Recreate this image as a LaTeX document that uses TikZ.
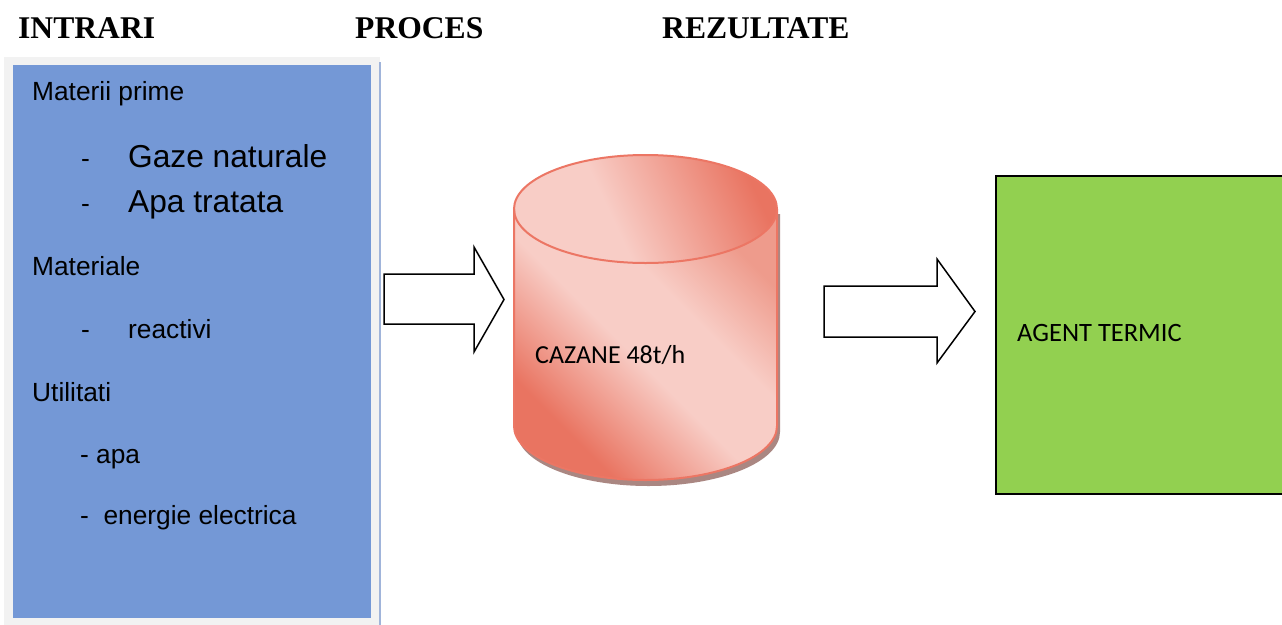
\documentclass[tikz,border=0pt]{standalone}
\usepackage{fontspec}
\setmainfont{Liberation Sans}
\newfontfamily\timesf{Liberation Serif}
\newfontfamily\calib{Carlito}
\definecolor{boxblue}{RGB}{116,152,214}
\definecolor{framegray}{RGB}{242,242,242}
\definecolor{edgeblue}{RGB}{160,180,218}
\definecolor{cdark}{RGB}{233,116,97}
\definecolor{clight}{RGB}{248,205,198}
\definecolor{cmid}{RGB}{238,155,140}
\definecolor{cstroke}{RGB}{236,118,100}
\definecolor{cshadow}{RGB}{170,135,130}
\definecolor{agentgreen}{RGB}{146,208,80}
\pgfdeclareverticalshading{bodyshade}{100bp}{color(0bp)=(cdark); color(28bp)=(cdark); color(47bp)=(clight); color(60bp)=(clight); color(75bp)=(cmid); color(100bp)=(cmid)}
\pgfdeclareverticalshading{topshade}{100bp}{color(0bp)=(clight); color(25bp)=(clight); color(42bp)=(clight); color(75bp)=(cdark); color(100bp)=(cdark)}
\tikzset{
  head/.style={font=\timesf\bfseries\fontsize{31.6}{36}\selectfont, anchor=base west, inner sep=0pt},
  item/.style={font=\fontsize{26.3}{30}\selectfont, anchor=base west, inner sep=0pt},
  bigitem/.style={font=\fontsize{31.7}{36}\selectfont, anchor=base west, inner sep=0pt},
  cal/.style={font=\calib\fontsize{26}{30}\selectfont, anchor=base west, inner sep=0pt},
  blockarrow/.style={draw=black, fill=white, line width=1.5pt, line join=miter},
}
\begin{document}
\begin{tikzpicture}[x=1pt,y=-1pt]
\useasboundingbox[fill=white] (0,0) rectangle (1282,624);
% headings
\node[head] (intrari) at (18,38) {INTRARI};
\node[head] (proces) at (355,38) {PROCES};
\node[head] (rezultate) at (662,38) {REZULTATE};
% left box
\fill[framegray] (4,57) rectangle (380,630);
\fill[boxblue] (12.5,65) rectangle (370.5,618);
\draw[edgeblue, line width=2pt] (380,62) -- (380,630);
\node[item] (mp) at (32,100) {Materii prime};
\node[item] (d1) at (81,167) {-};
\node[bigitem] (gaze) at (128,167) {Gaze naturale};
\node[item] (d2) at (81,212) {-};
\node[bigitem] (apat) at (128,212) {Apa tratata};
\node[item] (mat) at (32,275) {Materiale};
\node[item] (d3) at (81,338) {-};
\node[item] (react) at (128,338) {reactivi};
\node[item] (util) at (32,401) {Utilitati};
\node[item] (apa) at (80,463) {- apa};
\node[item] (energ) at (80,524) {-\ \ energie electrica};
% arrow 1
\draw[blockarrow] (384,274) -- (474,274) -- (474,247) -- (504,299.5) -- (474,352) -- (474,324) -- (384,324) -- cycle;
% cylinder shadow
\fill[cshadow] (517,214) -- (517,432) arc[start angle=180, end angle=0, x radius=131.5, y radius=54] -- (780,214) -- cycle;
% cylinder body
\shade[shading=bodyshade, shading angle=-45] (514,209) -- (514,426) arc[start angle=180, end angle=0, x radius=131.5, y radius=54] -- (777,209) arc[start angle=0, end angle=180, x radius=131.5, y radius=54] -- cycle;
\shade[shading=topshade, shading angle=-65] (645.5,209) ellipse[x radius=131.5, y radius=54];
\draw[cstroke, line width=2pt] (514,209) -- (514,426) arc[start angle=180, end angle=0, x radius=131.5, y radius=54] -- (777,209);
\draw[cstroke, line width=2pt] (645.5,209) ellipse[x radius=131.5, y radius=54];
\node[cal] (cazane) at (535,363) {CAZANE 48t/h};
% arrow 2
\draw[blockarrow] (824,286) -- (937,286) -- (937,259) -- (975,311.5) -- (937,363) -- (937,337) -- (824,337) -- cycle;
% result box
\draw[fill=agentgreen, draw=black, line width=1.5pt] (996,176) rectangle (1290,494);
\node[cal, font=\calib\fontsize{26.5}{30}\selectfont] (agent) at (1017,341) {AGENT TERMIC};
\end{tikzpicture}
\end{document}
